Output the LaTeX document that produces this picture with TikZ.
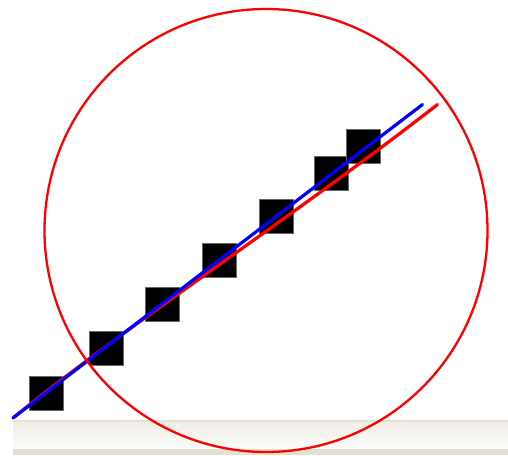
\documentclass[tikz,border=0pt]{standalone}
\usepackage{tikz}

\definecolor{barTop}{RGB}{228,226,212}
\definecolor{barLight}{RGB}{251,251,248}
\definecolor{barMid}{RGB}{240,238,230}
\definecolor{barBottom}{RGB}{226,224,208}
\definecolor{fitRed}{RGB}{255,0,0}
\definecolor{fitBlue}{RGB}{0,0,255}

\tikzset{
  marker/.style={fill=black, draw=black!60, line width=0.6pt, minimum size=34pt, inner sep=0pt, shape=rectangle},
}

\begin{document}
\begin{tikzpicture}[x=1pt, y=-1pt, line cap=round, line join=round]

  %% ==== canvas ====
  \fill[white] (0,0) rectangle (508,455);

  %% ==== status bar at the bottom ====
  \shade[top color=barMid, bottom color=barLight] (13,421) rectangle (508,449);
  \fill[barTop] (13,419.5) rectangle (508,421.5);
  \fill[barBottom] (13,449) rectangle (508,455);

  %% ==== black markers ====
  \node[marker] (sq1) at (46.5,393) {};
  \node[marker] (sq2) at (106,348.5) {};
  \node[marker] (sq3) at (162.5,304) {};
  \node[marker] (sq4) at (219.5,260.5) {};
  \node[marker] (sq5) at (276,216) {};
  \node[marker] (sq6) at (331.5,173.5) {};
  \node[marker] (sq7) at (363,146.5) {};

  %% ==== fitted lines ====
  \coordinate (start) at (13,418);
  \coordinate (blueEnd) at (422.5,104.5);
  \coordinate (redEnd) at (437.5,104.5);
  \draw[fitRed, line width=3.2pt] (start) .. controls (120,330) and (300,212) .. (redEnd);
  \draw[fitBlue, line width=3.2pt] (start) .. controls (150,313) and (300,198) .. (blueEnd);

  %% ==== circle ====
  \coordinate (centre) at (266,230.5);
  \draw[fitRed, line width=2.3pt] (centre) circle (221.5);

  \pgfresetboundingbox
  \path[use as bounding box] (0,0) rectangle (508,455);
\end{tikzpicture}
\end{document}
